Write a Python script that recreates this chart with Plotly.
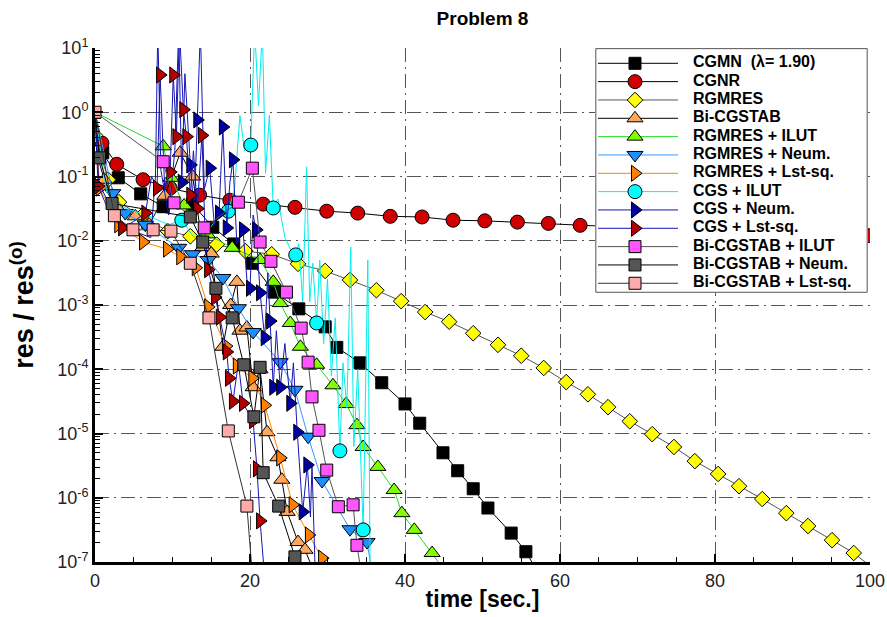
import numpy as np
import plotly.graph_objects as go

FONT = "Liberation Sans, Arial, sans-serif"

# ---- convergence histories: time [s] and log10(res/res0) ----
cgmn_t = [0, 1.0, 3.0, 5.9, 8.8, 12.6, 15.2, 17.9, 20.3, 23.1, 26.3, 29.7, 31.2, 34.2,
          37.0, 40.0, 41.9, 44.9, 46.8, 48.8, 50.7, 53.7, 55.6, 56.6]
cgmn_lg = [0, -0.63, -1.02, -1.27, -1.47, -1.43, -1.79, -2.05, -2.35, -2.80, -3.06, -3.34,
           -3.66, -3.90, -4.21, -4.54, -4.84, -5.30, -5.58, -5.86, -6.16, -6.55, -6.84, -7.05]

cgnr_t = [0, 0.9, 2.8, 6.2, 9.7, 13.5, 17.4, 21.7, 25.8, 29.9, 33.9, 38.1, 42.2, 46.2,
          50.3, 54.5, 58.5, 62.6, 66.7, 70.8, 75.0, 79.1, 83.2, 87.4, 91.5, 95.6, 99.7]
cgnr_lg = [0, -0.48, -0.81, -1.05, -1.18, -1.29, -1.37, -1.43, -1.48, -1.54, -1.57, -1.62,
           -1.63, -1.68, -1.69, -1.71, -1.73, -1.76, -1.78, -1.80, -1.82, -1.84, -1.86,
           -1.87, -1.89, -1.90, -1.92]

rgmres_t = [0, 1.7, 3.1, 6.0, 9.4, 12.3, 15.7, 19.4, 22.8, 26.2, 29.7, 32.9, 36.3, 39.5,
            42.6, 45.7, 48.8, 52.0, 55.0, 57.9, 60.8, 63.6, 66.2, 69.0, 71.9, 74.7, 77.4,
            80.4, 83.1, 86.1, 89.2, 92.0, 95.1, 97.9, 100.2]
rgmres_lg = [-0.36, -1.05, -1.40, -1.62, -1.85, -1.93, -2.06, -2.16, -2.21, -2.36, -2.47,
             -2.61, -2.77, -2.94, -3.11, -3.26, -3.44, -3.62, -3.79, -3.98, -4.20, -4.39,
             -4.59, -4.81, -5.01, -5.21, -5.43, -5.63, -5.82, -6.02, -6.24, -6.44, -6.66,
             -6.86, -7.08]

bicg_t = [0, 0.4, 1.2, 3.0, 5.2, 7.0, 9.0, 11.0, 12.6, 13.9, 15.0, 16.5, 17.5, 18.3, 18.7,
          19.6, 20.4, 21.3, 22.2, 23.6, 24.1, 24.8, 26.2, 27.1, 27.9]
bicg_lg = [0, -0.72, -1.05, -1.50, -1.62, -1.75, -1.30, -0.63, -1.00, -2.10, -2.20, -3.65,
           -3.00, -2.64, -3.40, -3.35, -4.28, -4.00, -4.98, -5.37, -5.72, -6.22, -6.69,
           -6.81, -7.05]

rg_ilut_t = [0, 8.8, 9.8, 11.5, 14.5, 17.7, 21.3, 23.0, 23.9, 25.2, 26.5, 28.6, 30.7,
             32.4, 33.8, 34.6, 36.5, 38.6, 39.6, 41.2, 43.5, 44.6]
rg_ilut_lg = [0, -0.53, -1.02, -1.45, -1.90, -2.11, -2.30, -2.64, -2.97, -3.28, -3.65,
              -3.93, -4.25, -4.54, -4.87, -5.21, -5.52, -5.88, -6.24, -6.50, -6.86, -7.05]

rg_neum_t = [0, 2.3, 3.9, 6.5, 10.8, 12.6, 14.6, 16.5, 18.5, 20.4, 23.9, 25.8, 27.5, 29.3,
             32.9, 35.1, 35.6]
rg_neum_lg = [0, -1.26, -1.57, -1.75, -2.11, -2.21, -2.30, -2.58, -3.05, -3.42, -3.89,
              -4.32, -5.05, -5.74, -6.49, -6.69, -7.05]

rg_lsq_t = [0, 0.6, 3.0, 6.2, 9.3, 11.0, 13.0, 14.6, 16.9, 18.3, 20.3, 21.9, 23.9, 25.5,
            27.6, 29.3, 29.8]
rg_lsq_lg = [0, -1.18, -1.75, -2.02, -2.13, -2.25, -2.42, -3.03, -3.64, -3.95, -4.14,
             -4.56, -5.38, -6.11, -6.58, -6.94, -7.05]

cgs_ilut_t = [0, 1.5, 4.0, 7.0, 9.5, 11.2, 12.8, 14.5, 16.0, 17.2, 18.0, 18.7, 19.3, 20.1,
              20.6, 21.1, 21.6, 22.0, 22.5, 23.0, 23.6, 24.5, 25.3, 25.9, 26.3, 26.8, 27.3,
              27.7, 28.1, 28.6, 29.0, 29.5, 30.0, 30.5, 31.0, 31.6, 32.0, 32.5, 33.0, 33.4,
              33.9, 34.6, 35.2, 35.5]
cgs_ilut_lg = [0, -1.25, -1.50, -1.62, -1.75, -1.68, -1.95, -1.85, -1.62, -1.54, -1.20,
               -0.05, -0.60, -0.51, 1.30, 0.10, 1.30, -0.95, -0.05, -1.49, -1.35, -1.95,
               -2.15, -2.22, -2.05, -2.95, -0.85, -2.95, -2.35, -3.28, -2.30, -3.60, -2.60,
               -4.10, -3.20, -5.27, -3.90, -4.60, -2.10, -5.20, -4.00, -6.50, -2.30, -7.10]
cgs_ilut_mk = [5, 9, 13, 19, 23, 29, 35, 41]

cgs_neum_t = [0, 0.5, 2.5, 5.0, 7.2, 7.8, 8.1, 8.5, 9.5, 10.3, 10.8, 11.2, 11.6, 12.3,
              12.8, 13.2, 13.6, 14.1, 14.8, 15.4, 16.0, 16.5, 17.0, 17.4, 17.8, 18.3, 19.1,
              19.6, 20.0, 20.4, 20.8, 21.3, 21.9, 22.3, 22.6, 23.0, 23.4, 23.9, 24.5, 25.2,
              25.6, 26.1, 26.8, 27.4, 27.8, 28.0, 28.4]
cgs_neum_lg = [0, -1.10, -1.60, -1.85, -1.95, -1.00, 1.30, -0.90, -1.60, -0.60, 1.30, -1.09,
               0.60, -0.82, -1.55, -0.12, 1.30, -1.20, -0.87, -1.75, -1.57, -0.23, -1.80,
               -1.10, -0.74, -2.05, -1.83, -2.60, -2.74, -1.60, -1.83, -2.81, -3.51, -2.50,
               -3.25, -4.28, -3.40, -4.28, -3.60, -4.53, -3.90, -4.98, -6.22, -5.49, -6.30,
               -5.50, -7.10]
cgs_neum_mk = [11, 13, 15, 18, 20, 21, 22, 24, 26, 28, 30, 31, 32, 34, 35, 37, 39, 41, 42, 43]

cgs_lsq_t = [0, 0.4, 2.0, 3.5, 5.0, 6.5, 7.3, 8.0, 8.4, 9.0, 9.7, 10.1, 10.5, 10.9, 11.4,
             11.8, 12.3, 12.7, 13.2, 13.8, 14.2, 14.6, 15.5, 16.1, 17.0, 17.3, 17.8, 18.5,
             19.1, 20.4, 20.9, 21.3, 21.8]
cgs_lsq_lg = [0, -1.15, -1.60, -1.80, -1.70, -1.57, -1.00, -1.18, 0.58, -1.20, -0.93, 0.58,
              -0.38, 1.30, 0.04, -0.38, -1.29, -0.60, -1.50, -0.36, -1.90, -2.45, -2.88,
              -3.19, -3.73, -4.14, -4.50, -3.90, -4.53, -4.80, -5.55, -6.36, -7.10]
cgs_lsq_mk = [1, 3, 5, 7, 8, 10, 11, 12, 14, 15, 16, 18, 19, 21, 22, 23, 24, 25, 26, 28,
              29, 30, 31]

bicg_ilut_t = [0, 8.8, 10.2, 14.1, 18.5, 20.3, 21.3, 22.7, 24.7, 26.6, 27.5, 28.0, 28.9,
               29.9, 31.4, 33.3, 33.8, 34.2]
bicg_ilut_lg = [0, -0.77, -1.41, -1.80, -1.40, -0.87, -2.02, -2.32, -2.80, -3.36, -3.89,
                -4.43, -4.95, -5.57, -6.14, -6.11, -6.74, -7.05]

bicg_neum_t = [0, 0.6, 2.2, 12.3, 13.9, 15.6, 17.7, 19.2, 20.5, 21.3, 21.7, 23.7, 25.8, 26.1]
bicg_neum_lg = [0, -0.71, -1.42, -1.63, -2.02, -2.74, -3.20, -3.93, -4.74, -3.97, -5.61,
                -6.13, -6.92, -7.05]

bicg_lsq_t = [0, 2.5, 4.9, 7.5, 9.8, 12.3, 14.7, 17.2, 19.6, 20.2]
bicg_lsq_lg = [0, -1.61, -1.83, -1.83, -1.85, -2.35, -3.20, -4.96, -6.13, -7.05]

# legend label, data, marker-index list, marker colour, line colour, symbol, size
series = [
    ("CGMN  (λ= 1.90)", cgmn_t, cgmn_lg, None, "#000000", "#000000", "square", 12),
    ("CGNR", cgnr_t, cgnr_lg, "tail", "#d00000", "#000000", "circle", 14),
    ("RGMRES", rgmres_t, rgmres_lg, "head", "#ffff00", "#555555", "diamond", 12),
    ("Bi-CGSTAB", bicg_t, bicg_lg, None, "#ffa860", "#000000", "triangle-up", 14),
    ("RGMRES + ILUT", rg_ilut_t, rg_ilut_lg, None, "#80ff00", "#22dd22", "triangle-up", 14),
    ("RGMRES + Neum.", rg_neum_t, rg_neum_lg, None, "#1e8fff", "#3399ff", "triangle-down", 14),
    ("RGMRES + Lst-sq.", rg_lsq_t, rg_lsq_lg, None, "#ff8000", "#ff8000", "triangle-right", 14),
    ("CGS + ILUT", cgs_ilut_t, cgs_ilut_lg, cgs_ilut_mk, "#00ffff", "#00eeee", "circle", 14),
    ("CGS + Neum.", cgs_neum_t, cgs_neum_lg, cgs_neum_mk, "#0000a0", "#1515b5", "triangle-right", 14),
    ("CGS + Lst-sq.", cgs_lsq_t, cgs_lsq_lg, cgs_lsq_mk, "#b00000", "#1515b5", "triangle-right", 14),
    ("Bi-CGSTAB + ILUT", bicg_ilut_t, bicg_ilut_lg, None, "#ff55ff", "#555555", "square", 12),
    ("Bi-CGSTAB + Neum.", bicg_neum_t, bicg_neum_lg, None, "#555555", "#000000", "square", 12),
    ("Bi-CGSTAB + Lst-sq.", bicg_lsq_t, bicg_lsq_lg, "head", "#ffaaaa", "#333333", "square", 12),
]

fig = go.Figure()

for name, t, lg, mk, mcol, lcol, sym, size in series:
    t = np.asarray(t, float)
    res = 10.0 ** np.asarray(lg, float)
    n = len(t)
    if mk is None:
        idx = list(range(1, n - 1))
    elif mk == "tail":
        idx = list(range(1, n))
    elif mk == "head":
        idx = list(range(0, n - 1))
    else:
        idx = list(mk)
    fig.add_trace(go.Scatter(x=t, y=res, mode="lines", line=dict(color=lcol, width=1),
                             hoverinfo="skip", showlegend=False))
    fig.add_trace(go.Scatter(x=t[idx], y=res[idx], mode="markers", name=name,
                             marker=dict(symbol=sym, size=size, color=mcol,
                                         line=dict(color="#000000", width=1)),
                             showlegend=False))

# ---- legend panel drawn as an inset subplot (rows = entries) ----
fig.add_trace(go.Scatter(x=[0.003, 0.997, 0.997, 0.003, 0.003],
                         y=[-0.80, -0.80, 12.49, 12.49, -0.80],
                         fill="toself", fillcolor="white", mode="lines",
                         line=dict(color="#555555", width=1),
                         xaxis="x2", yaxis="y2", hoverinfo="skip", showlegend=False))
for i, (name, t, lg, mk, mcol, lcol, sym, size) in enumerate(series):
    fig.add_trace(go.Scatter(x=[0.011, 0.304], y=[i, i], mode="lines",
                             line=dict(color=lcol, width=1), xaxis="x2", yaxis="y2",
                             hoverinfo="skip", showlegend=False))
    fig.add_trace(go.Scatter(x=[0.1465], y=[i], mode="markers",
                             marker=dict(symbol=sym, size=size, color=mcol,
                                         line=dict(color="#000000", width=1)),
                             xaxis="x2", yaxis="y2", hoverinfo="skip", showlegend=False))
    fig.add_trace(go.Scatter(x=[0.359], y=[i], mode="text", text=[name],
                             textposition="middle right", cliponaxis=False,
                             textfont=dict(family=FONT, size=16, color="#000000", weight="bold"),
                             xaxis="x2", yaxis="y2", hoverinfo="skip", showlegend=False))

GRID = "#555555"
DASHDOT = "14px,5px,2px,5px"

y_tickvals = [10.0 ** p for p in range(-7, 2)]
y_ticktext = ["10<sup>%d</sup>" % p for p in range(-7, 2)]
y_minor = [k * 10.0 ** p for p in range(-7, 1) for k in range(2, 10)]

fig.update_layout(
    width=887, height=617,
    margin=dict(l=95, r=17, t=48, b=55),
    paper_bgcolor="white", plot_bgcolor="white",
    showlegend=False,
    font=dict(family=FONT, color="#000000"),
    title=dict(text="<b>Problem 8</b>", x=0.5, xref="paper", y=1 - 18 / 617,
               yref="container", yanchor="middle", xanchor="center",
               font=dict(family=FONT, size=19, color="#000000")),
    xaxis=dict(range=[0, 100], tickvals=[0, 20, 40, 60, 80, 100], automargin=False,
               ticks="inside", ticklen=8, tickwidth=2, tickcolor="#000000",
               minor=dict(dtick=5, tick0=0, ticks="inside", ticklen=5, tickwidth=1,
                          tickcolor="#000000", showgrid=False),
               showline=True, linewidth=3, linecolor="#000000",
               showgrid=True, gridcolor=GRID, gridwidth=1, griddash=DASHDOT,
               zeroline=False, tickfont=dict(family=FONT, size=18, color="#222222"),
               title=dict(text="<b>time [sec.]</b>", standoff=2,
                          font=dict(family=FONT, size=23, color="#000000"))),
    yaxis=dict(type="log", range=[-7, 1], tickvals=y_tickvals, ticktext=y_ticktext,
               automargin=False,
               ticks="inside", ticklen=8, tickwidth=2, tickcolor="#000000",
               minor=dict(tickvals=y_minor, ticks="inside", ticklen=5, tickwidth=1,
                          tickcolor="#000000", showgrid=False),
               showline=True, linewidth=3, linecolor="#000000",
               showgrid=True, gridcolor=GRID, gridwidth=1, griddash=DASHDOT,
               zeroline=False, tickfont=dict(family=FONT, size=18, color="#222222"),
               title=dict(text="<b>res / res<sup>(o)</sup></b>", standoff=16,
                          font=dict(family=FONT, size=27, color="#000000"))),
    xaxis2=dict(domain=[(595 - 95) / 775, (868 - 95) / 775], range=[0, 1],
                anchor="y2", visible=False, fixedrange=True),
    yaxis2=dict(domain=[(562 - 293) / 514, 1.0], range=[12.53, -0.835],
                anchor="x2", visible=False, fixedrange=True),
)

fig.write_html("out.html")
